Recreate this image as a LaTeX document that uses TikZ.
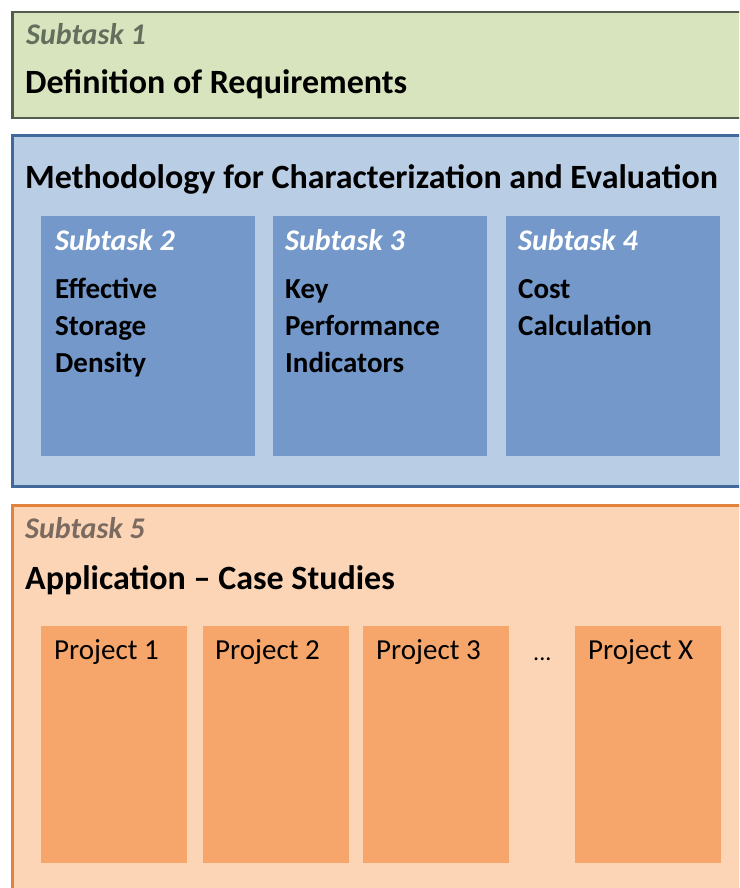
\documentclass[tikz,border=0pt]{standalone}
\usepackage{fontspec}
\setmainfont{Carlito}
\usetikzlibrary{positioning}
\definecolor{reqFill}{HTML}{D8E4BE}
\definecolor{reqLine}{HTML}{545C4E}
\definecolor{reqLabel}{HTML}{646E5C}
\definecolor{methFill}{HTML}{B9CDE5}
\definecolor{methLine}{HTML}{41699B}
\definecolor{taskFill}{HTML}{7398C9}
\definecolor{appFill}{HTML}{FBD5B6}
\definecolor{appLine}{HTML}{E3823C}
\definecolor{appLabel}{HTML}{7A6A60}
\definecolor{projFill}{HTML}{F6A66B}
\newcommand{\subtask}[1]{\textbf{\textit{Subtask #1}}}

\begin{document}
\begin{tikzpicture}[x=1pt, y=-1pt]
  \tikzset{frame/.style={draw, line width=2.5pt, anchor=north west, inner sep=0pt},
           panel/.style={anchor=north west, inner sep=0pt},
           label/.style={anchor=base west, inner sep=0pt, font=\fontsize{30}{36}\selectfont},
           title/.style={anchor=base west, inner sep=0pt, font=\fontsize{34}{40}\selectfont\bfseries},
           body/.style={anchor=base west, inner sep=0pt, align=left, font=\fontsize{29}{37}\selectfont\bfseries},
           proj/.style={anchor=base west, inner sep=0pt, font=\fontsize{29}{34}\selectfont}}
  \useasboundingbox (0,0) rectangle (739,888);
  \clip (0,0) rectangle (739,888);
  \fill[white] (0,0) rectangle (739,888);
  % subtask 1
  \node[frame, fill=reqFill, draw=reqLine, minimum width=740pt, minimum height=106pt] (req) at (11,11) {};
  \node[label, text=reqLabel] (req-lab) at (26,45) {\subtask{1}};
  \node[title] (req-tit) at (25,94) {Definition of Requirements};
  % methodology
  \node[frame, fill=methFill, draw=methLine, minimum width=740pt, minimum height=351pt] (meth) at (11,134) {};
  \node[title] (meth-tit) at (25,188) {Methodology for Characterization and Evaluation};
  \node[panel, fill=taskFill, minimum width=214pt, minimum height=240pt] (task-2) at (41,216) {};
  \node[panel, fill=taskFill, minimum width=214pt, minimum height=240pt] (task-3) at (273,216) {};
  \node[panel, fill=taskFill, minimum width=214pt, minimum height=240pt] (task-4) at (506,216) {};
  \node[label, text=white] (task-2-lab) at (55,250) {\subtask{2}};
  \node[label, text=white] (task-3-lab) at (285,250) {\subtask{3}};
  \node[label, text=white] (task-4-lab) at (518,250) {\subtask{4}};
  % last line sets the base
  \node[body] (task-2-txt) at (55,372) {Effective\\Storage\\Density};
  \node[body] (task-3-txt) at (285,372) {Key\\Performance\\Indicators};
  \node[body] (task-4-txt) at (518,335) {Cost\\Calculation};
  % subtask 5
  \node[frame, fill=appFill, draw=appLine, minimum width=740pt, minimum height=400pt] (app) at (11,504) {};
  \node[label, text=appLabel] (app-lab) at (25,538) {\subtask{5}};
  \node[title] (app-tit) at (25,589) {Application -- Case Studies};
  \foreach \i/\x in {1/41, 2/203, 3/363}
    \node[panel, fill=projFill, minimum width=146pt, minimum height=237pt] (proj-\i) at (\x,626) {};
  \node[panel, fill=projFill, minimum width=146pt, minimum height=237pt] (proj-x) at (575,626) {};
  \node[proj] (proj-1-txt) at (54,659) {Project 1};
  \node[proj] (proj-2-txt) at (215,659) {Project 2};
  \node[proj] (proj-3-txt) at (376,659) {Project 3};
  \node[proj, font=\fontsize{24}{28}\selectfont] (dots) at (533,660) {...};
  \node[proj] (proj-x-txt) at (588,659) {Project X};
\end{tikzpicture}
\end{document}
